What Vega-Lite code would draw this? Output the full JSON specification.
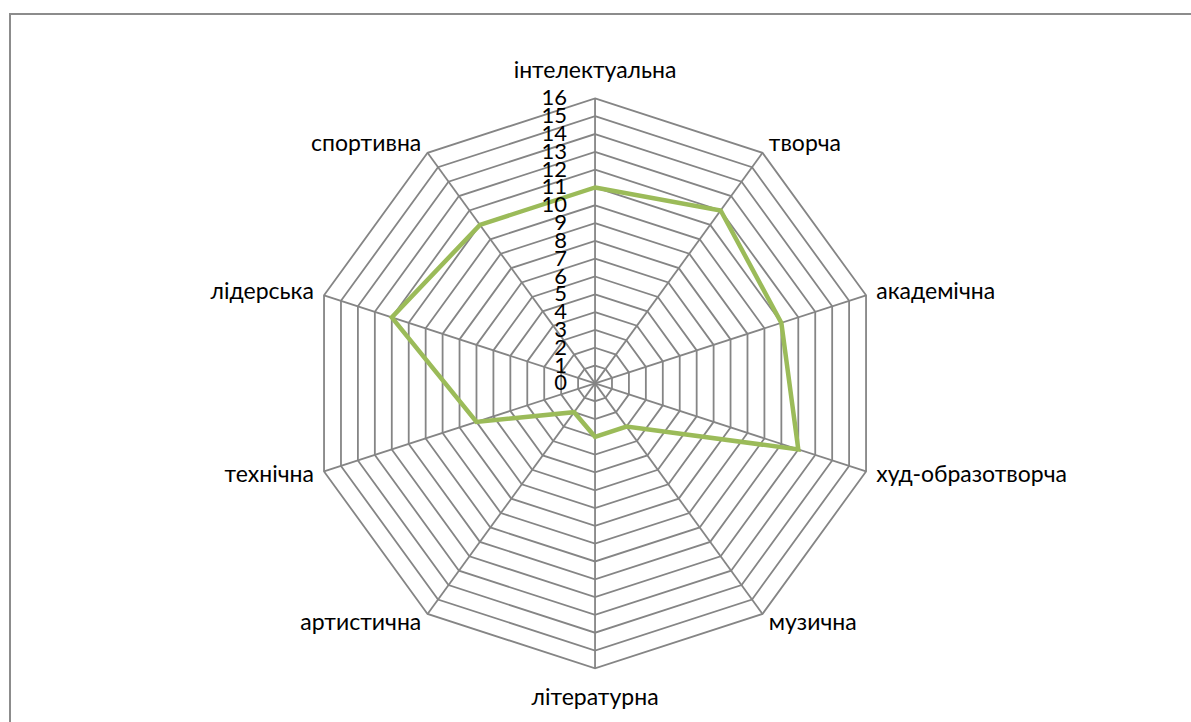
{
  "$schema": "https://vega.github.io/schema/vega-lite/v6.json",
  "width": 1191,
  "height": 722,
  "autosize": {"type": "fit", "contains": "padding"},
  "padding": {"left": 10, "top": 14, "right": -6, "bottom": -6},
  "background": "white",
  "config": {
    "view": {"stroke": "#8c8c8c", "strokeWidth": 2},
    "font": "Lato",
    "text": {"font": "Lato", "fontSize": 23, "color": "#000000"}
  },
  "datasets": {
    "cats": [
      {"cat": "інтелектуальна", "i": 0, "value": 11},
      {"cat": "творча", "i": 1, "value": 12},
      {"cat": "академічна", "i": 2, "value": 11},
      {"cat": "худ-образотворча", "i": 3, "value": 12},
      {"cat": "музична", "i": 4, "value": 3},
      {"cat": "літературна", "i": 5, "value": 3},
      {"cat": "артистична", "i": 6, "value": 2},
      {"cat": "технічна", "i": 7, "value": 7},
      {"cat": "лідерська", "i": 8, "value": 12},
      {"cat": "спортивна", "i": 9, "value": 11}
    ],
    "levels": [
      {"level": 0}, {"level": 1}, {"level": 2}, {"level": 3}, {"level": 4},
      {"level": 5}, {"level": 6}, {"level": 7}, {"level": 8}, {"level": 9},
      {"level": 10}, {"level": 11}, {"level": 12}, {"level": 13}, {"level": 14},
      {"level": 15}, {"level": 16}
    ],
    "rings": [
      {"level": 1, "axes": [0,1,2,3,4,5,6,7,8,9]},
      {"level": 2, "axes": [0,1,2,3,4,5,6,7,8,9]},
      {"level": 3, "axes": [0,1,2,3,4,5,6,7,8,9]},
      {"level": 4, "axes": [0,1,2,3,4,5,6,7,8,9]},
      {"level": 5, "axes": [0,1,2,3,4,5,6,7,8,9]},
      {"level": 6, "axes": [0,1,2,3,4,5,6,7,8,9]},
      {"level": 7, "axes": [0,1,2,3,4,5,6,7,8,9]},
      {"level": 8, "axes": [0,1,2,3,4,5,6,7,8,9]},
      {"level": 9, "axes": [0,1,2,3,4,5,6,7,8,9]},
      {"level": 10, "axes": [0,1,2,3,4,5,6,7,8,9]},
      {"level": 11, "axes": [0,1,2,3,4,5,6,7,8,9]},
      {"level": 12, "axes": [0,1,2,3,4,5,6,7,8,9]},
      {"level": 13, "axes": [0,1,2,3,4,5,6,7,8,9]},
      {"level": 14, "axes": [0,1,2,3,4,5,6,7,8,9]},
      {"level": 15, "axes": [0,1,2,3,4,5,6,7,8,9]},
      {"level": 16, "axes": [0,1,2,3,4,5,6,7,8,9]}
    ]
  },
  "layer": [
    {
      "data": {"name": "rings"},
      "transform": [
        {"flatten": ["axes"], "as": ["i"]},
        {"calculate": "datum.level * sin(datum.i * PI / 5)", "as": "px"},
        {"calculate": "datum.level * cos(datum.i * PI / 5)", "as": "py"}
      ],
      "mark": {"type": "line", "interpolate": "linear-closed", "stroke": "#858585", "strokeWidth": 1.8},
      "encoding": {
        "x": {"field": "px", "type": "quantitative", "scale": {"domain": [-32.85, 33.8], "nice": false, "zero": false}, "axis": null},
        "y": {"field": "py", "type": "quantitative", "scale": {"domain": [-19.35, 20.74], "nice": false, "zero": false}, "axis": null},
        "detail": {"field": "level", "type": "nominal"},
        "order": {"field": "i", "type": "quantitative"}
      }
    },
    {
      "data": {"name": "cats"},
      "transform": [
        {"calculate": "16 * sin(datum.i * PI / 5)", "as": "ox"},
        {"calculate": "16 * cos(datum.i * PI / 5)", "as": "oy"}
      ],
      "mark": {"type": "rule", "stroke": "#858585", "strokeWidth": 1.8},
      "encoding": {
        "x": {"field": "ox", "type": "quantitative"},
        "y": {"field": "oy", "type": "quantitative"},
        "x2": {"datum": 0},
        "y2": {"datum": 0}
      }
    },
    {
      "data": {"name": "cats"},
      "transform": [
        {"calculate": "datum.value * sin(datum.i * PI / 5)", "as": "px"},
        {"calculate": "datum.value * cos(datum.i * PI / 5)", "as": "py"}
      ],
      "mark": {"type": "line", "interpolate": "linear-closed", "stroke": "#9BBB59", "strokeWidth": 4.5, "strokeJoin": "miter"},
      "encoding": {
        "x": {"field": "px", "type": "quantitative"},
        "y": {"field": "py", "type": "quantitative"},
        "order": {"field": "i", "type": "quantitative"}
      }
    },
    {
      "data": {"name": "levels"},
      "transform": [{"calculate": "0", "as": "zx"}],
      "mark": {"type": "text", "align": "right", "baseline": "middle", "dx": -28, "fontSize": 22},
      "encoding": {
        "x": {"field": "zx", "type": "quantitative"},
        "y": {"field": "level", "type": "quantitative"},
        "text": {"field": "level", "type": "quantitative"}
      }
    },
    {
      "data": {"name": "cats"},
      "transform": [
        {"filter": "datum.i >= 1 && datum.i <= 4"},
        {"calculate": "16.6 * sin(datum.i * PI / 5)", "as": "lx"},
        {"calculate": "16.6 * cos(datum.i * PI / 5)", "as": "ly"}
      ],
      "mark": {"type": "text", "align": "left", "baseline": "middle"},
      "encoding": {
        "x": {"field": "lx", "type": "quantitative"},
        "y": {"field": "ly", "type": "quantitative"},
        "text": {"field": "cat", "type": "nominal"}
      }
    },
    {
      "data": {"name": "cats"},
      "transform": [
        {"filter": "datum.i >= 6"},
        {"calculate": "16.6 * sin(datum.i * PI / 5)", "as": "lx"},
        {"calculate": "16.6 * cos(datum.i * PI / 5)", "as": "ly"}
      ],
      "mark": {"type": "text", "align": "right", "baseline": "middle"},
      "encoding": {
        "x": {"field": "lx", "type": "quantitative"},
        "y": {"field": "ly", "type": "quantitative"},
        "text": {"field": "cat", "type": "nominal"}
      }
    },
    {
      "data": {"name": "cats"},
      "transform": [
        {"filter": "datum.i == 0"},
        {"calculate": "16.6 * sin(datum.i * PI / 5)", "as": "lx"},
        {"calculate": "16.6 * cos(datum.i * PI / 5)", "as": "ly"}
      ],
      "mark": {"type": "text", "align": "center", "baseline": "middle", "dy": -17},
      "encoding": {
        "x": {"field": "lx", "type": "quantitative"},
        "y": {"field": "ly", "type": "quantitative"},
        "text": {"field": "cat", "type": "nominal"}
      }
    },
    {
      "data": {"name": "cats"},
      "transform": [
        {"filter": "datum.i == 5"},
        {"calculate": "16.6 * sin(datum.i * PI / 5)", "as": "lx"},
        {"calculate": "16.6 * cos(datum.i * PI / 5)", "as": "ly"}
      ],
      "mark": {"type": "text", "align": "center", "baseline": "middle", "dy": 19},
      "encoding": {
        "x": {"field": "lx", "type": "quantitative"},
        "y": {"field": "ly", "type": "quantitative"},
        "text": {"field": "cat", "type": "nominal"}
      }
    }
  ]
}
